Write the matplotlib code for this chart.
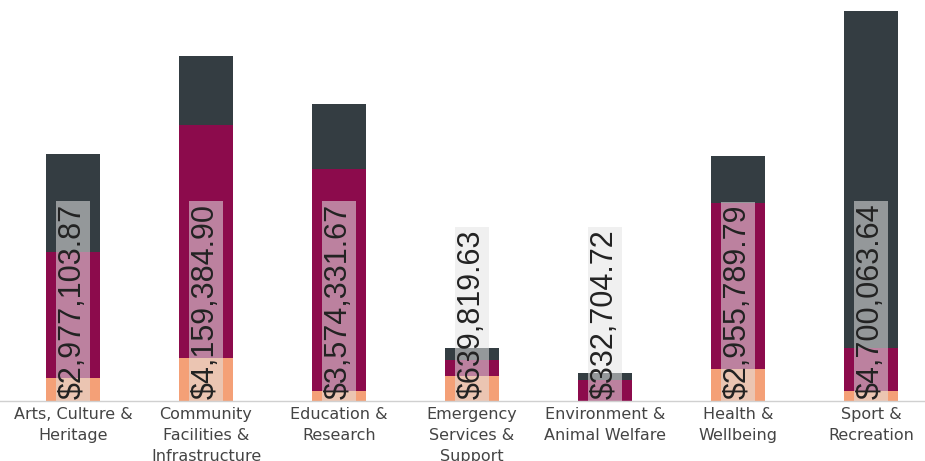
import matplotlib.pyplot as plt
import numpy as np

# categories and funding split (AUD)
categories = ["Arts, Culture &\nHeritage", "Community\nFacilities &\nInfrastructure",
              "Education &\nResearch", "Emergency\nServices &\nSupport",
              "Environment &\nAnimal Welfare", "Health &\nWellbeing", "Sport &\nRecreation"]
totals = [2977103.87, 4159384.90, 3574331.67, 639819.63, 332704.72, 2955789.79, 4700063.64]
seg_orange = [280000, 520000, 120000, 300000, 0, 390000, 120000]
seg_maroon = [1510000, 2800000, 2670000, 190000, 250000, 1990000, 520000]
seg_dark = [t - a - b for t, a, b in zip(totals, seg_orange, seg_maroon)]

c_orange = "#f4a077"
c_maroon = "#8c0b4c"
c_dark = "#343d42"

fig = plt.figure(figsize=(9.25, 4.61), dpi=100)
ax = fig.add_axes([0, 60 / 461, 1, 401 / 461])

x = np.arange(len(categories))
w = 0.41
ax.bar(x, seg_orange, w, color=c_orange)
ax.bar(x, seg_maroon, w, bottom=seg_orange, color=c_maroon)
ax.bar(x, seg_dark, w, bottom=np.add(seg_orange, seg_maroon), color=c_dark)

# total labels, rotated inside the bars
for xi, t in zip(x, totals):
    ax.text(xi, 30000, f"${t:,.2f}", rotation=90, ha="center", va="bottom",
            fontsize=22, family="Liberation Sans", color="#222222",
            bbox=dict(facecolor="#e4e4e4", alpha=0.55, edgecolor="none", pad=1.5))

ax.set_xlim(-0.549, 6.406)
ax.set_ylim(0, 4.83e6)
ax.set_yticks([])
ax.set_xticks(x)
ax.set_xticklabels(categories, fontsize=11.5, color="#444444", linespacing=1.5)
ax.tick_params(axis="x", length=0, pad=4)
for s in ["top", "left", "right"]:
    ax.spines[s].set_visible(False)
ax.spines["bottom"].set_color("#d0d0d0")
ax.spines["bottom"].set_linewidth(1)

fig.savefig("out.png", dpi=100)
